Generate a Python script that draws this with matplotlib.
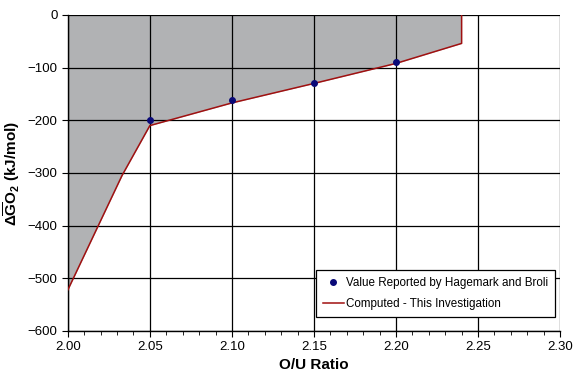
import matplotlib
matplotlib.use("Agg")
import matplotlib.pyplot as plt
from matplotlib.ticker import MultipleLocator

plt.rcParams['font.family'] = ['Liberation Sans', 'DejaVu Sans']
plt.rcParams['mathtext.fontset'] = 'custom'
plt.rcParams['mathtext.rm'] = 'Liberation Sans'
plt.rcParams['mathtext.bf'] = 'Liberation Sans:bold'

# reported values (Hagemark and Broli)
rep_x = [2.05, 2.10, 2.15, 2.20]
rep_y = [-199, -161, -129, -90]

# computed curve
calc_x = [2.00, 2.033, 2.05, 2.10, 2.15, 2.20, 2.24, 2.24]
calc_y = [-522, -305, -210, -167, -130, -92, -54, 0]

fig = plt.figure(figsize=(5.75, 3.74), dpi=100)
ax = fig.add_axes([0.118, 0.115, 0.856, 0.845])

ax.fill_between(calc_x, calc_y, 0, color="#b1b2b4", lw=0, zorder=1)
ax.grid(True, which="major", color="black", lw=0.9, zorder=2)
ax.set_axisbelow(False)
for gl in ax.get_xgridlines() + ax.get_ygridlines():
    gl.set_zorder(2)

ax.plot(calc_x, calc_y, color="#a01010", lw=1.1, zorder=3,
        label="Computed - This Investigation")
ax.plot(rep_x, rep_y, "o", color="#0a0a78", ms=4, zorder=4,
        label="Value Reported by Hagemark and Broli")

ax.set_xlim(2.00, 2.30)
ax.set_ylim(-600, 0)
ax.xaxis.set_major_locator(MultipleLocator(0.05))
ax.xaxis.set_minor_locator(MultipleLocator(0.01))
ax.yaxis.set_major_locator(MultipleLocator(100))
ax.xaxis.set_major_formatter(matplotlib.ticker.FormatStrFormatter("%.2f"))
ax.tick_params(which="both", direction="out", labelsize=9.5, color="black")
ax.tick_params(which="major", length=4)
ax.tick_params(which="minor", length=3)
for s in ["top", "right"]:
    ax.spines[s].set_visible(False)
ax.spines["left"].set_linewidth(1.0)
ax.spines["bottom"].set_linewidth(1.0)

ax.set_xlabel("O/U Ratio", fontsize=11, fontweight="bold", labelpad=3)
ax.set_ylabel(r"$\mathbf{\Delta\overline{G}O_2}$ (kJ/mol)", fontsize=11,
              fontweight="bold", labelpad=4)

handles, labels = ax.get_legend_handles_labels()
leg = ax.legend(handles[::-1], labels[::-1], loc="lower right",
                bbox_to_anchor=(0.99, 0.045), fontsize=8.4, frameon=True,
                fancybox=False, edgecolor="black", framealpha=1,
                borderpad=0.6, borderaxespad=0.0, handlelength=1.8,
                handletextpad=0.2, labelspacing=0.75)
leg.get_frame().set_linewidth(0.9)
leg.set_zorder(5)

plt.savefig("out.png", dpi=100)
